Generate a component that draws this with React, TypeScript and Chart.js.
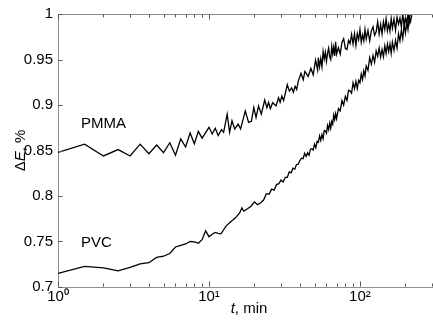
import { useEffect, useRef } from 'react';
import { Chart, registerables } from 'chart.js';

Chart.register(...registerables);

const pmmaTime = [
  1, 1.5, 2, 2.5, 3, 3.5, 4, 4.5, 5, 5.5, 6, 6.5, 7, 7.5, 8, 8.5, 9,
  10, 10.5, 11, 11.5, 12.1, 12.5, 13.2, 13.7, 14.2, 14.8, 15.6, 16.2, 17.4, 18.3, 19.1, 19.8,
  20.5, 21.3, 22.2, 23.4, 24.2, 24.8, 25.5, 26.4, 27.8, 28.9, 29.6, 30.4, 31.2, 32.1, 33,
  34.1, 35.3, 36.2, 37.2, 38.1, 39, 40.7, 42.1, 43.2, 45.4, 47.3, 49, 50.8, 52.4,
  53, 54, 55, 56, 57, 58, 59, 60, 61, 62, 63, 64, 65, 66, 67, 68, 69, 70,
  72, 74, 76, 78, 80, 82, 84, 86, 88, 90, 92, 94, 96, 98, 100, 102, 104, 106, 108, 110,
  113, 116, 119, 122, 125, 128, 131, 134, 137, 140, 143, 146, 149, 152, 155, 158, 161,
  164, 168, 172, 176, 180, 184, 188, 192, 196, 200, 204, 208, 212, 216, 220,
];
const pmmaDE = [
  0.848, 0.857, 0.844, 0.851, 0.844, 0.857, 0.8465, 0.856, 0.8476, 0.8585, 0.8448, 0.8628, 0.8538, 0.8693, 0.8574, 0.871, 0.8636,
  0.8755, 0.8682, 0.8744, 0.8664, 0.873, 0.87, 0.8899, 0.87, 0.8827, 0.8736, 0.879, 0.8736, 0.8935, 0.8809, 0.882, 0.8971,
  0.8863, 0.899, 0.8899, 0.9055, 0.8971, 0.903, 0.896, 0.9025, 0.899, 0.908, 0.903, 0.9098, 0.905, 0.9134, 0.9223,
  0.9152, 0.9188, 0.914, 0.9206, 0.917, 0.926, 0.935, 0.9278, 0.9369, 0.9314, 0.9404, 0.9332, 0.9494, 0.9386,
  0.952, 0.942, 0.951, 0.942, 0.959, 0.9505, 0.958, 0.948, 0.957, 0.9625, 0.953, 0.95, 0.9645, 0.956, 0.9635, 0.954, 0.9695, 0.956,
  0.963, 0.956, 0.969, 0.973, 0.962, 0.961, 0.971, 0.9675, 0.9775, 0.967, 0.9785, 0.9655, 0.9785, 0.972, 0.983, 0.969, 0.977, 0.9705, 0.983, 0.9725,
  0.982, 0.9705, 0.9815, 0.986, 0.9765, 0.9805, 0.9915, 0.978, 0.9885, 0.978, 0.9915, 0.983, 0.995, 0.9815, 0.989, 0.9812, 0.995,
  0.9845, 0.9945, 0.982, 0.9965, 0.989, 0.9955, 0.986, 1.0005, 0.988, 0.996, 0.987, 1.001, 0.9915, 1.004, 0.998,
];

const pvcTime = [
  1, 1.5, 2, 2.5, 3, 3.5, 4, 4.5, 5, 5.5, 6, 6.5, 7, 7.5, 8, 8.5, 9, 9.5, 10,
  10.5, 11, 11.5, 12, 13, 14, 15, 16, 16.5, 17, 18, 19,
  20, 21, 22, 23, 24, 25, 26, 27, 28, 29, 30, 31, 32, 33, 34, 35, 36, 37, 38, 39, 40,
  41, 42, 43, 44, 45, 46, 47, 48, 49, 50, 51, 52, 53, 54, 55, 56, 57, 58, 59, 60,
  61, 62, 63, 64, 65, 66, 67, 68, 69, 70,
  72, 74, 76, 78, 80, 82, 84, 86, 88, 90, 92, 94, 96, 98, 100, 102, 104, 106, 108, 110,
  113, 116, 119, 122, 125, 128, 131, 134, 137, 140, 143, 146, 149, 152, 155, 158, 161,
  164, 168, 172, 176, 180, 184, 188, 192, 196, 200, 204, 208, 212, 216, 220,
];
const pvcDE = [
  0.715, 0.7227, 0.721, 0.7177, 0.7215, 0.7255, 0.7267, 0.7325, 0.7338, 0.7368, 0.744, 0.7458, 0.7473, 0.75, 0.7495, 0.748, 0.752, 0.7617, 0.7553,
  0.758, 0.76, 0.759, 0.7585, 0.7672, 0.772, 0.776, 0.7816, 0.787, 0.7834, 0.786, 0.7888,
  0.7935, 0.7905, 0.7925, 0.7955, 0.8025, 0.802, 0.8075, 0.8065, 0.8125, 0.8135, 0.8175, 0.8155, 0.8205, 0.8205, 0.8265, 0.8255, 0.8305, 0.8295, 0.8345, 0.835, 0.839,
  0.8415, 0.841, 0.847, 0.8435, 0.8475, 0.8447, 0.8515, 0.852, 0.8505, 0.857, 0.853, 0.86, 0.859, 0.866, 0.861, 0.8675, 0.863, 0.872, 0.8715, 0.869,
  0.8775, 0.873, 0.88, 0.8745, 0.882, 0.879, 0.889, 0.884, 0.8905, 0.885,
  0.896, 0.8935, 0.905, 0.9, 0.9095, 0.905, 0.916, 0.9155, 0.913, 0.9245, 0.918, 0.926, 0.918, 0.927, 0.9245, 0.934, 0.928, 0.9375, 0.932, 0.943,
  0.938, 0.952, 0.945, 0.9545, 0.947, 0.9595, 0.9535, 0.9625, 0.9525, 0.961, 0.953, 0.965, 0.9565, 0.967, 0.9587, 0.967, 0.9567,
  0.969, 0.96, 0.971, 0.9625, 0.978, 0.9705, 0.982, 0.973, 0.988, 0.979, 0.9915, 0.983, 0.996, 0.9915, 0.998,
];

const xTickValues = [1, 2, 3, 4, 5, 6, 7, 8, 9, 10, 20, 30, 40, 50, 60, 70, 80, 90, 100, 200, 300];
const xLabelValues = [1, 10, 100];
const xLabelTexts = ['10\u2070', '10\u00B9', '10\u00B2'];
const yTickValues = [0.7, 0.75, 0.8, 0.85, 0.9, 0.95, 1];
const seriesNames = ['PMMA', 'PVC'];
const nameAnchorT = [1.42, 1.42];
const nameAnchorDE = [0.8744, 0.7444];

const FONT = '"Liberation Sans", Arial, Helvetica, sans-serif';
const AXIS_COLOR = '#8c8c8c';

function drawSegments(ctx: CanvasRenderingContext2D, segs: { t: string; it: boolean }[], cx: number, cy: number) {
  let total = 0;
  const widths = segs.map((s) => {
    ctx.font = `${s.it ? 'italic ' : ''}15px ${FONT}`;
    const w = ctx.measureText(s.t).width;
    total += w;
    return w;
  });
  let x = cx - total / 2;
  segs.forEach((s, i) => {
    ctx.font = `${s.it ? 'italic ' : ''}15px ${FONT}`;
    ctx.fillText(s.t, x, cy);
    x += widths[i];
  });
}

const decorPlugin = {
  id: 'decor',
  afterDatasetsDraw(chart: any) {
    const { ctx, chartArea, scales } = chart;
    const xs = scales.x;
    const ys = scales.y;
    ctx.save();
    ctx.strokeStyle = AXIS_COLOR;
    ctx.lineWidth = 1;
    const top = Math.round(chartArea.top) + 0.5;
    const bottom = Math.round(chartArea.bottom) - 0.5;
    const left = Math.round(chartArea.left) + 0.5;
    ctx.beginPath();
    ctx.moveTo(chartArea.left, top);
    ctx.lineTo(chartArea.right, top);
    ctx.stroke();
    ctx.strokeStyle = '#555';
    xTickValues.forEach((v) => {
      const px = Math.round(xs.getPixelForValue(v)) + 0.5;
      const len = xLabelValues.includes(v) ? 5 : 3;
      ctx.beginPath();
      ctx.moveTo(px, bottom);
      ctx.lineTo(px, bottom - len);
      ctx.moveTo(px, top);
      ctx.lineTo(px, top + len);
      ctx.stroke();
    });
    yTickValues.forEach((v) => {
      const py = Math.round(ys.getPixelForValue(v)) + 0.5;
      ctx.beginPath();
      ctx.moveTo(left, py);
      ctx.lineTo(left + 4, py);
      ctx.stroke();
    });
    ctx.fillStyle = '#000';
    ctx.font = `15px ${FONT}`;
    ctx.textAlign = 'left';
    ctx.textBaseline = 'alphabetic';
    seriesNames.forEach((n, i) => {
      ctx.fillText(n, xs.getPixelForValue(nameAnchorT[i]), ys.getPixelForValue(nameAnchorDE[i]));
    });
    drawSegments(ctx, [{ t: 't', it: true }, { t: ', min', it: false }], (chartArea.left + chartArea.right) / 2 + 4, 313);
    ctx.translate(25, (chartArea.top + chartArea.bottom) / 2);
    ctx.rotate(-Math.PI / 2);
    drawSegments(ctx, [{ t: '\u0394', it: false }, { t: 'E', it: true }, { t: ', %', it: false }], 0, 0);
    ctx.restore();
  },
};

export default function App() {
  const ref = useRef<HTMLCanvasElement | null>(null);
  useEffect(() => {
    if (!ref.current) return;
    Chart.defaults.font.family = FONT;
    Chart.defaults.font.size = 15;
    Chart.defaults.color = '#000';
    const chart = new Chart(ref.current, {
      type: 'line',
      data: {
        datasets: [
          {
            label: seriesNames[0],
            data: pmmaTime.map((t, i) => ({ x: t, y: pmmaDE[i] })),
            borderColor: '#000',
            borderWidth: 1.3,
            pointRadius: 0,
            tension: 0,
            fill: false,
          },
          {
            label: seriesNames[1],
            data: pvcTime.map((t, i) => ({ x: t, y: pvcDE[i] })),
            borderColor: '#000',
            borderWidth: 1.3,
            pointRadius: 0,
            tension: 0,
            fill: false,
          },
        ],
      },
      options: {
        animation: false,
        responsive: false,
        events: [],
        layout: { padding: { top: 10, right: 0, left: 0, bottom: 0 } },
        plugins: {
          legend: { display: false },
          tooltip: { enabled: false },
          title: { display: false },
        },
        scales: {
          x: {
            type: 'logarithmic',
            min: 1,
            max: 300,
            grid: { display: false, drawTicks: false },
            border: { display: true, color: AXIS_COLOR, width: 1 },
            afterBuildTicks: (scale: any) => {
              scale.ticks = xTickValues.map((value) => ({ value }));
            },
            afterFit: (scale: any) => {
              scale.height = 39;
            },
            ticks: {
              autoSkip: false,
              maxRotation: 0,
              minRotation: 0,
              padding: 1,
              font: { size: 15, family: FONT },
              color: '#000',
              callback: (v: any) => {
                const idx = xLabelValues.indexOf(Number(v));
                return idx >= 0 ? xLabelTexts[idx] : '';
              },
            },
          },
          y: {
            type: 'linear',
            min: 0.7,
            max: 1,
            grid: { display: false, drawTicks: false },
            border: { display: true, color: AXIS_COLOR, width: 1 },
            afterBuildTicks: (scale: any) => {
              scale.ticks = yTickValues.map((value) => ({ value }));
            },
            afterFit: (scale: any) => {
              scale.width = 58;
            },
            ticks: {
              padding: 5,
              font: { size: 15, family: FONT },
              color: '#000',
              callback: (v: any) => String(Number(Number(v).toFixed(2))),
            },
          },
        },
      },
      plugins: [decorPlugin],
    });
    return () => chart.destroy();
  }, []);
  return (
    <div style={{ position: 'fixed', left: 0, top: 0, width: 433, height: 326, background: '#fff' }}>
      <canvas ref={ref} width={433} height={326} style={{ display: 'block' }} />
    </div>
  );
}
